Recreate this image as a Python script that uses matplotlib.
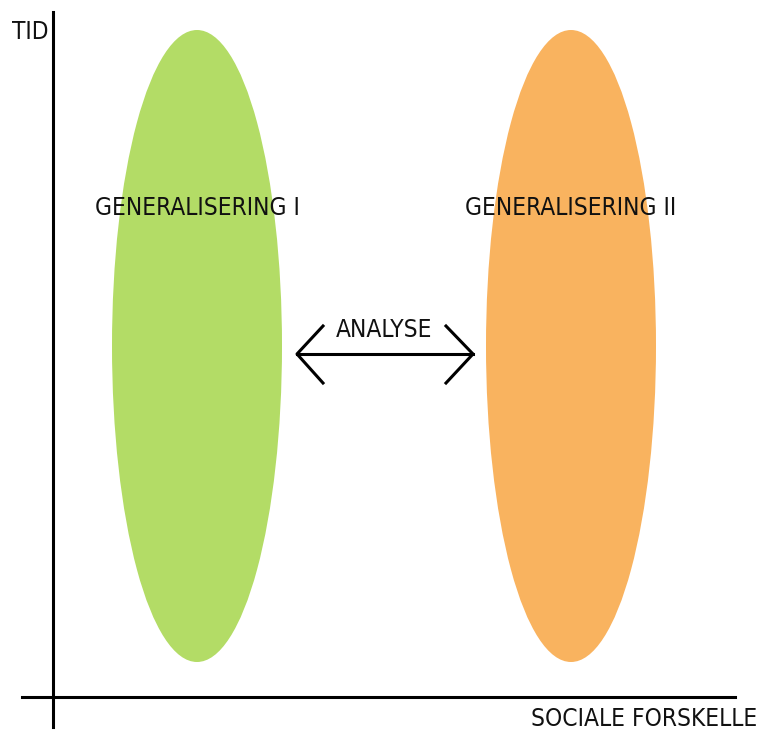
import matplotlib.pyplot as plt
from matplotlib.patches import Ellipse

# tekster og farver
labels = ['GENERALISERING I', 'GENERALISERING II']
colors = ['#b3dc66', '#f9b35f']
x_label = 'SOCIALE FORSKELLE'
y_label = 'TID'
arrow_label = 'ANALYSE'

W, H = 760, 731
fig = plt.figure(figsize=(W / 100, H / 100), dpi=100)
ax = fig.add_axes([0, 0, 1, 1])
ax.set_xlim(0, W)
ax.set_ylim(H, 0)
ax.axis('off')

font = dict(family=['DejaVu Sans Condensed', 'DejaVu Sans'], stretch='condensed',
            fontsize=17.6, color='#111111')

# ellipser
centers = [197, 571]
for cx, lab, col in zip(centers, labels, colors):
    ax.add_patch(Ellipse((cx, 346), 170, 632, facecolor=col, edgecolor='none'))
    ax.text(cx, 208, lab, ha='center', va='center', **font)

# akser
ax.plot([53, 53], [12, 727], color='black', lw=2.2)
ax.plot([22, 735], [697, 697], color='black', lw=2.2)
ax.text(12, 32, y_label, ha='left', va='center', **font)
ax.text(757, 719, x_label, ha='right', va='center', **font)

# dobbeltpil
ax.plot([297, 473], [354, 354], color='black', lw=2.2)
ax.plot([323, 297, 323], [326, 354, 383], color='black', lw=2.2)
ax.plot([446, 473, 446], [326, 354, 383], color='black', lw=2.2)
ax.text(384, 330, arrow_label, ha='center', va='center', **font)

fig.savefig('out.png', dpi=100)
